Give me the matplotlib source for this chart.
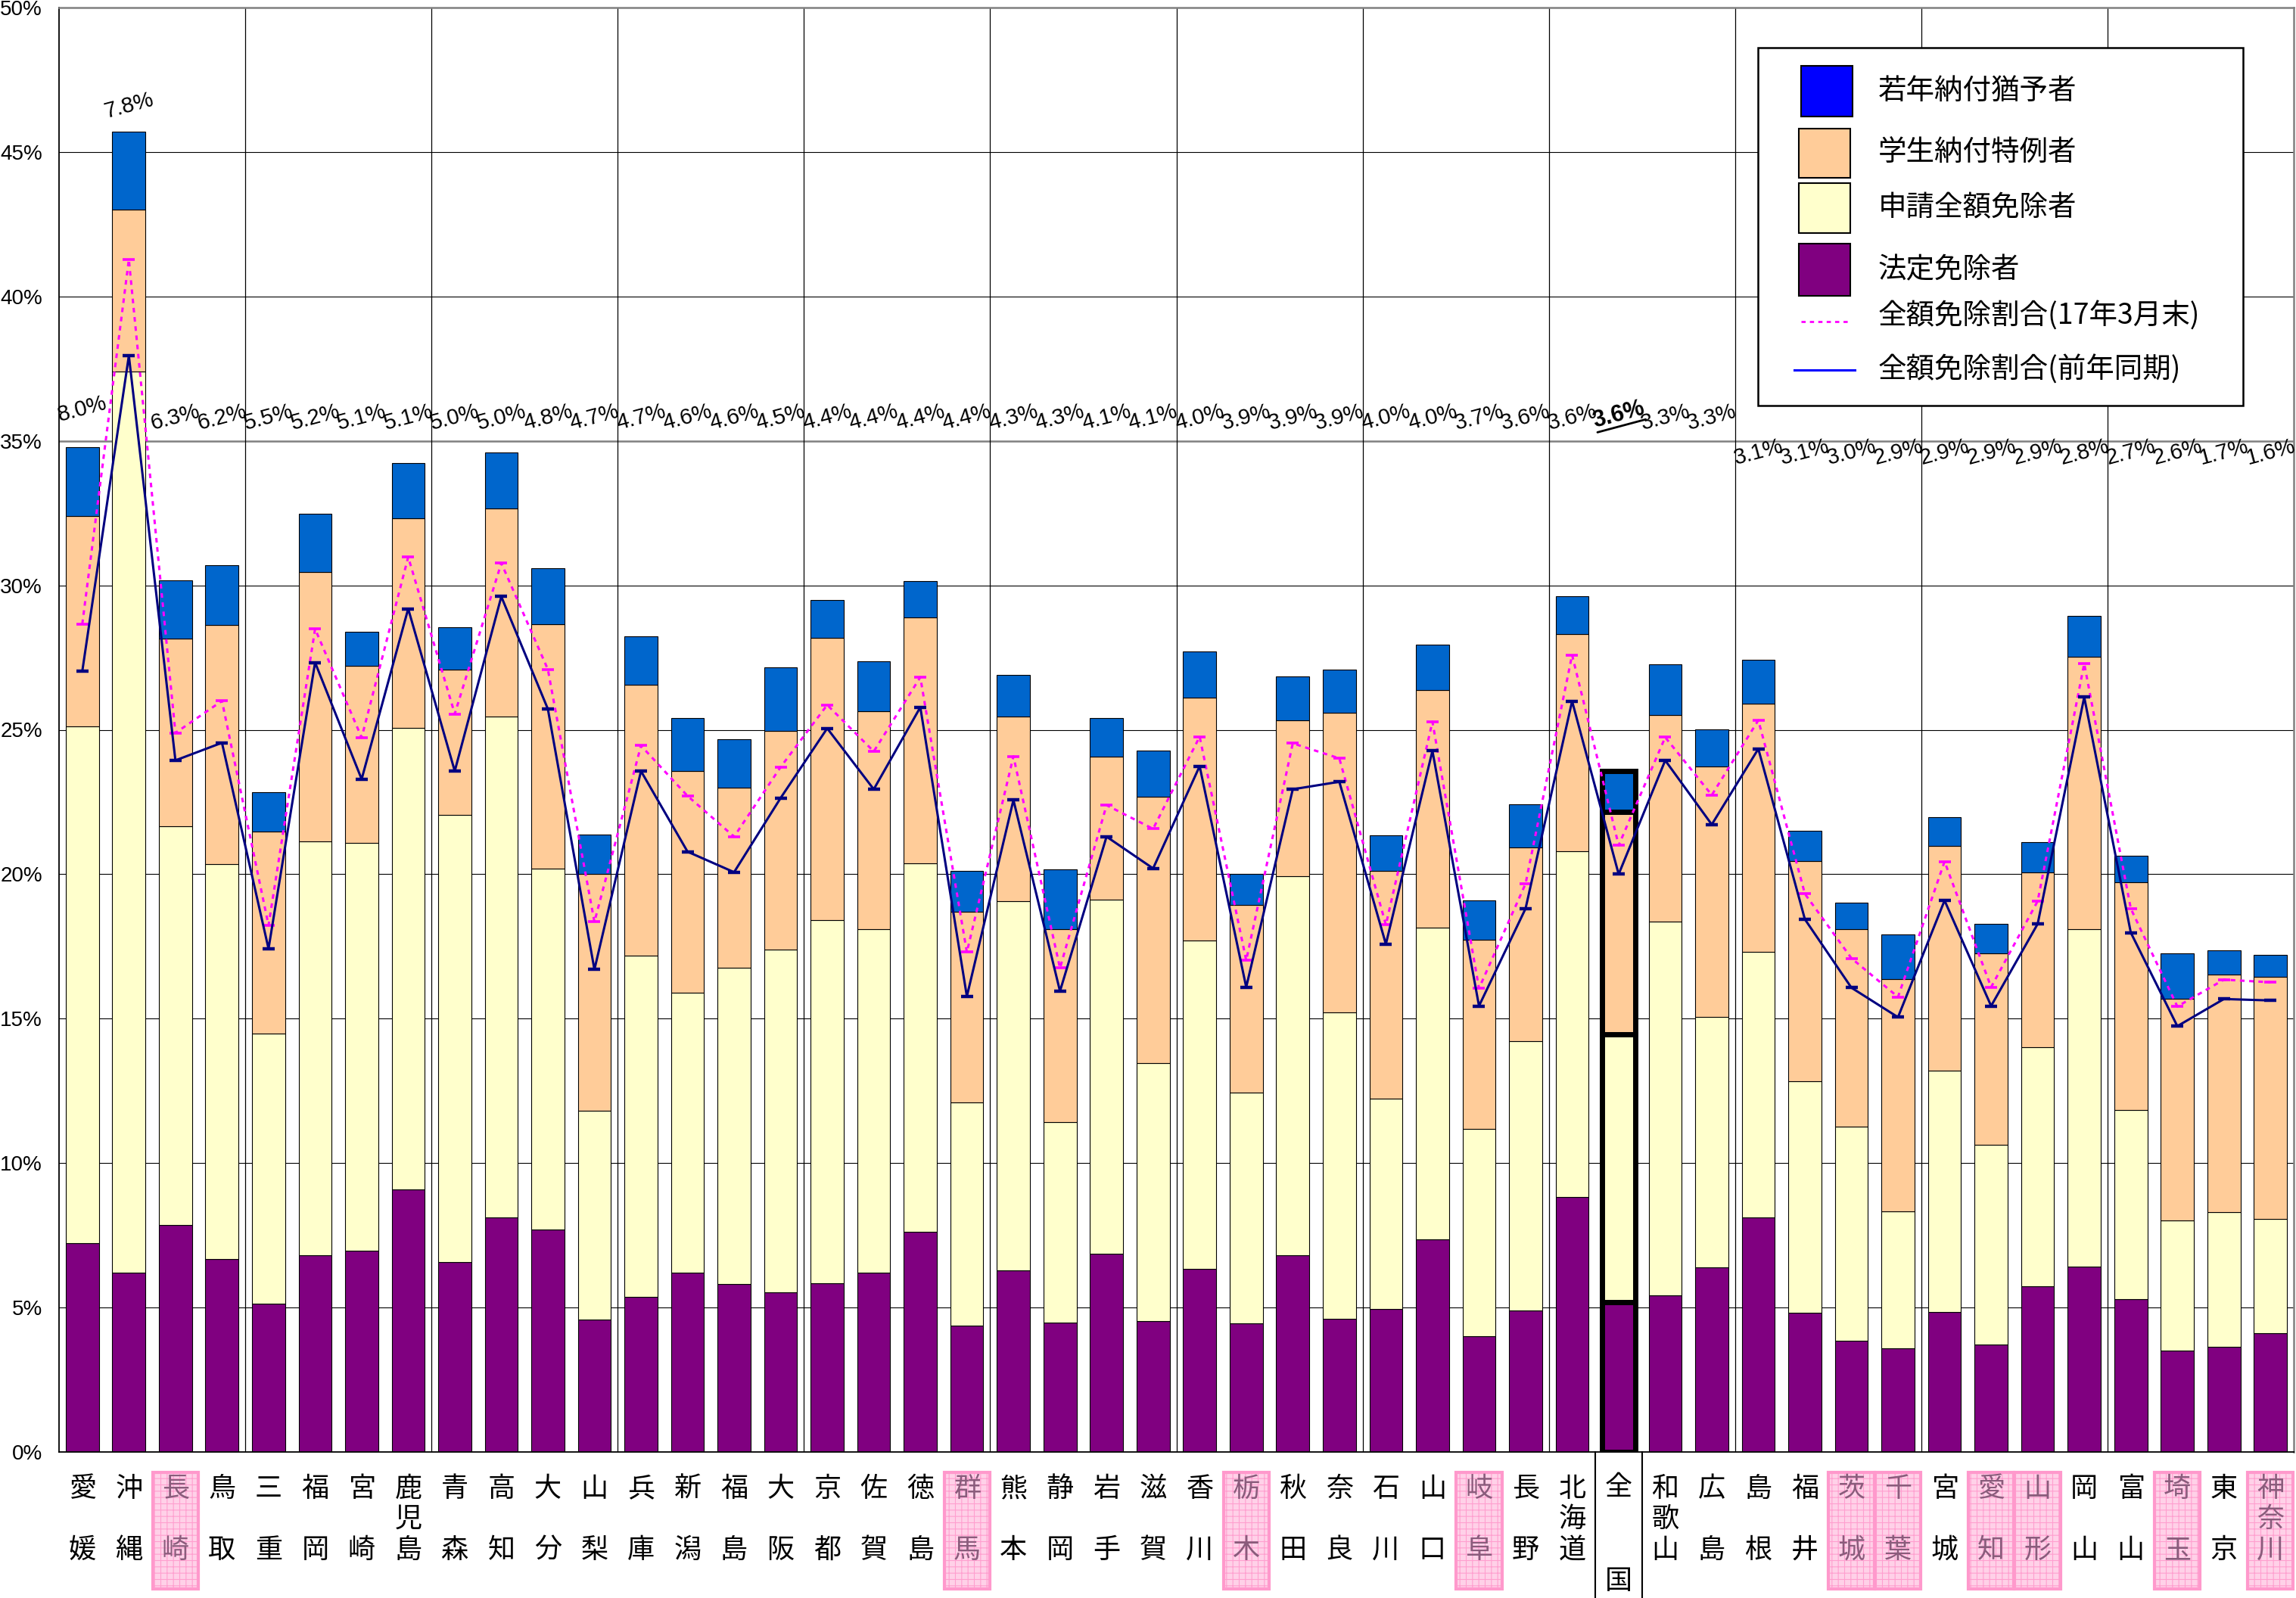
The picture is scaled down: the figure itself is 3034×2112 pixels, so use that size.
import numpy as np
import matplotlib
matplotlib.use("Agg")
import matplotlib.pyplot as plt
from matplotlib.patches import Rectangle
from matplotlib.lines import Line2D
import matplotlib.transforms as mtrans
from matplotlib import font_manager as fm

# ---------------- data ----------------
prefectures = ['愛媛','沖縄','長崎','鳥取','三重','福岡','宮崎','鹿児島','青森','高知','大分','山梨',
               '兵庫','新潟','福島','大阪','京都','佐賀','徳島','群馬','熊本','静岡','岩手','滋賀',
               '香川','栃木','秋田','奈良','石川','山口','岐阜','長野','北海道','全国','和歌山','広島',
               '島根','福井','茨城','千葉','宮城','愛知','山形','岡山','富山','埼玉','東京','神奈川']

legal_exempt = [7.22, 6.22, 7.85, 6.69, 5.13, 6.81, 6.97, 9.08, 6.57, 8.13, 7.69, 4.58,
                5.36, 6.20, 5.81, 5.53, 5.85, 6.22, 7.62, 4.37, 6.29, 4.48, 6.85, 4.53,
                6.34, 4.46, 6.81, 4.62, 4.95, 7.36, 4.02, 4.90, 8.82, 5.18, 5.43, 6.39,
                8.13, 4.81, 3.86, 3.58, 4.85, 3.72, 5.74, 6.43, 5.30, 3.51, 3.65, 4.11]
applied_full = [17.91, 31.18, 13.82, 13.65, 9.36, 14.33, 14.12, 15.98, 15.49, 17.32, 12.51, 7.22,
                11.83, 9.71, 10.94, 11.86, 12.57, 11.87, 12.75, 7.73, 12.78, 6.95, 12.26, 8.94,
                11.36, 7.99, 13.12, 10.61, 7.27, 10.80, 7.17, 9.31, 11.98, 9.29, 12.92, 8.68,
                9.19, 8.03, 7.40, 4.74, 8.34, 6.92, 8.26, 11.66, 6.55, 4.50, 4.66, 3.97]
student_special = [7.27, 5.61, 6.48, 8.30, 6.99, 9.31, 6.13, 7.25, 5.02, 7.20, 8.46, 8.22,
                   9.36, 7.66, 6.24, 7.58, 9.75, 7.55, 8.52, 6.59, 6.38, 6.66, 4.95, 9.22,
                   8.41, 6.48, 5.41, 10.36, 7.89, 8.22, 6.53, 6.71, 7.51, 7.69, 7.17, 8.66,
                   8.59, 7.62, 6.83, 8.05, 7.78, 6.62, 6.06, 9.43, 7.87, 7.67, 8.23, 8.36]
youth_deferral = [2.39, 2.69, 2.02, 2.06, 1.37, 2.02, 1.18, 1.93, 1.48, 1.95, 1.92, 1.35,
                  1.69, 1.84, 1.67, 2.20, 1.32, 1.74, 1.25, 1.42, 1.44, 2.07, 1.35, 1.60,
                  1.60, 1.07, 1.51, 1.49, 1.23, 1.56, 1.37, 1.49, 1.30, 1.41, 1.74, 1.28,
                  1.51, 1.05, 0.93, 1.54, 1.00, 1.02, 1.05, 1.42, 0.92, 1.57, 0.83, 0.77]
rate_h17_march = [28.66, 41.28, 24.89, 26.00, 18.23, 28.49, 24.73, 30.98, 25.55, 30.77, 27.09, 18.35,
                  24.45, 22.71, 21.30, 23.71, 25.86, 24.25, 26.82, 17.30, 24.08, 16.75, 22.39, 21.57,
                  24.76, 17.02, 24.53, 24.01, 18.25, 25.28, 16.05, 19.67, 27.59, 21.00, 24.74, 22.74,
                  25.33, 19.32, 17.09, 15.75, 20.44, 16.09, 19.07, 27.29, 18.81, 15.42, 16.35, 16.26]
rate_prev_year = [27.03, 37.95, 23.94, 24.55, 17.42, 27.33, 23.29, 29.19, 23.57, 29.61, 25.72, 16.70,
                  23.57, 20.78, 20.07, 22.64, 25.05, 22.94, 25.78, 15.77, 22.57, 15.95, 21.30, 20.20,
                  23.74, 16.09, 22.94, 23.20, 17.58, 24.27, 15.44, 18.81, 25.99, 20.00, 23.94, 21.72,
                  24.34, 18.44, 16.07, 15.05, 19.09, 15.44, 18.28, 26.13, 17.98, 14.74, 15.68, 15.63]
top_labels = ['8.0%','7.8%','6.3%','6.2%','5.5%','5.2%','5.1%','5.1%','5.0%','5.0%','4.8%','4.7%',
              '4.7%','4.6%','4.6%','4.5%','4.4%','4.4%','4.4%','4.4%','4.3%','4.3%','4.1%','4.1%',
              '4.0%','3.9%','3.9%','3.9%','4.0%','4.0%','3.7%','3.6%','3.6%','3.6%','3.3%','3.3%',
              '3.1%','3.1%','3.0%','2.9%','2.9%','2.9%','2.9%','2.8%','2.7%','2.6%','1.7%','1.6%']
highlighted = ['長崎','群馬','栃木','岐阜','茨城','千葉','愛知','山形','埼玉','神奈川']
national = '全国'
series_names = ['法定免除者', '申請全額免除者', '学生納付特例者', '若年納付猶予者']
line_names = ['全額免除割合(17年3月末)', '全額免除割合(前年同期)']
y_ticks = list(range(0, 51, 5))

# ---------------- fonts ----------------
plt.rcParams['font.family'] = ['Noto Sans CJK JP', 'DejaVu Sans']
names = {f.name for f in fm.fontManager.ttflist}
if 'Liberation Sans Narrow' in names:
    NUM_FAMILY = ['Liberation Sans Narrow', 'DejaVu Sans']
else:
    NUM_FAMILY = ['Liberation Sans', 'DejaVu Sans']
plt.rcParams['hatch.linewidth'] = 0.8

W, H = 3034, 2112
fig = plt.figure(figsize=(W / 100, H / 100), dpi=100)
fig.patch.set_facecolor('white')

def fx(px):
    return px / W

def fy(py):
    return 1 - py / H

ax = fig.add_axes([fx(78), fy(1919), fx(3031) - fx(78), fy(10) - fy(1919)])
n = len(prefectures)
x = np.arange(n)
ax.set_xlim(-0.5, n - 0.5)
ax.set_ylim(0, 50)

# gridlines
for v in y_ticks[1:-1]:
    if v == 35:
        ax.axhline(v, color='#808080', lw=1.8, zorder=0.5)
    else:
        ax.axhline(v, color='black', lw=0.8, zorder=0.5)
for k in range(4, n, 4):
    ax.axvline(k - 0.5, color='black', lw=0.9, zorder=0.5)

# bars
colors = ['#800080', '#FFFFCC', '#FFCC99', '#0066CC']
segments = [legal_exempt, applied_full, student_special, youth_deferral]
is_nat = np.array([p == national for p in prefectures])
ecs = ['black'] * n
lws = np.where(is_nat, 5.0, 0.8)
bottom = np.zeros(n)
for seg, c in zip(segments, colors):
    seg = np.array(seg)
    ax.bar(x, seg, width=0.71, bottom=bottom, color=c, edgecolor=ecs,
           linewidth=lws, zorder=2)
    bottom = bottom + seg

# lines
ax.plot(x, rate_h17_march, color='#FF00FF', lw=2.2, ls=(0, (2, 2)),
        marker='_', ms=12, mew=2.6, zorder=4)
ax.plot(x, rate_prev_year, color='#000080', lw=2.2, ls='-',
        marker='_', ms=12, mew=3.2, zorder=5)

# labels above bars
ROT = 15
for i, lab in enumerate(top_labels):
    if i == 1:
        ly = 46.6
    elif i == 0:
        ly = 36.1
    elif i >= 36:
        ly = 34.6
    else:
        ly = 35.8
    if prefectures[i] == national:
        ax.text(i, ly + 0.1, lab, rotation=ROT, rotation_mode='anchor', ha='center', va='center',
                fontsize=22, fontweight='bold', family=NUM_FAMILY, zorder=6)
        th = np.deg2rad(ROT)
        pts = []
        for dxp, dyp in [(-33, -15), (33, -15)]:
            rx = dxp * np.cos(th) - dyp * np.sin(th)
            ry = dxp * np.sin(th) + dyp * np.cos(th)
            pts.append(ax.transData + mtrans.ScaledTranslation(rx / 100, ry / 100, fig.dpi_scale_trans))
        ax.annotate('', xy=(i, ly + 0.1), xycoords=pts[1], xytext=(i, ly + 0.1), textcoords=pts[0],
                    arrowprops=dict(arrowstyle='-', lw=2.0, color='black', shrinkA=0, shrinkB=0),
                    zorder=6)
    else:
        ax.text(i, ly, lab, rotation=ROT, rotation_mode='anchor', ha='center', va='center',
                fontsize=21, family=NUM_FAMILY, zorder=6)

# axes styling
ax.set_yticks(y_ticks)
ax.set_yticklabels([f'{v}%' for v in y_ticks], family=NUM_FAMILY, fontsize=20)
ax.tick_params(axis='y', length=0, pad=16)
ax.set_xticks([])
for s in ['left', 'bottom']:
    ax.spines[s].set_color('black')
    ax.spines[s].set_linewidth(1.3)
for s in ['top', 'right']:
    ax.spines[s].set_color('#808080')
    ax.spines[s].set_linewidth(1.8)

# category labels (vertical text)
bt = mtrans.blended_transform_factory(ax.transData, fig.transFigure)
for i, name in enumerate(prefectures):
    hl = name in highlighted
    if hl:
        ax.add_patch(Rectangle((i - 0.49, fy(2100)), 0.98, fy(1946) - fy(2100), transform=bt,
                               facecolor='#FFD1E8', edgecolor='#FF9FCF', hatch='++', lw=0,
                               clip_on=False, zorder=1))
        ax.add_patch(Rectangle((i - 0.49, fy(2100)), 0.98, fy(1946) - fy(2100), transform=bt,
                               fill=False, edgecolor='#FF99CC', lw=3, clip_on=False, zorder=1))
    tc = '#8A5C7C' if hl else 'black'
    if name == national:
        rows = [1966, 2090]
        for xx in (i - 0.5, i + 0.5):
            ax.add_line(Line2D([xx, xx], [fy(1919), fy(2112)], transform=bt, color='black',
                               lw=1.5, clip_on=False))
    elif len(name) == 3:
        rows = [1968, 2008, 2049]
    else:
        rows = [1968, 2049]
    for ch, ry in zip(name, rows):
        ax.text(i, fy(ry), ch, transform=bt, ha='center', va='center', fontsize=26,
                color=tc, clip_on=False, zorder=3)

# legend (manual)
fig.patches.append(Rectangle((fx(2323), fy(536)), fx(2964) - fx(2323), fy(63) - fy(536),
                             transform=fig.transFigure, facecolor='white', edgecolor='black',
                             lw=1.8, zorder=5))
leg_patches = [('#0000FF', 2380, 2448, 87, 154, series_names[3]),
               ('#FFCC99', 2377, 2445, 170, 235, series_names[2]),
               ('#FFFFCC', 2377, 2445, 242, 308, series_names[1]),
               ('#800080', 2377, 2445, 322, 391, series_names[0])]
for c, x0, x1, y0, y1, lab in leg_patches:
    fig.patches.append(Rectangle((fx(x0), fy(y1)), fx(x1) - fx(x0), fy(y0) - fy(y1),
                                 transform=fig.transFigure, facecolor=c, edgecolor='black',
                                 lw=1.5, zorder=6))
    fig.text(fx(2482), fy((y0 + y1) / 2), lab, ha='left', va='center', fontsize=27, zorder=7)
fig.lines.append(Line2D([fx(2380), fx(2445)], [fy(425), fy(425)], transform=fig.transFigure,
                        color='#FF00FF', lw=2.0, ls=(0, (2, 2)), zorder=6))
fig.text(fx(2482), fy(418), line_names[0], ha='left', va='center', fontsize=27, zorder=7)
fig.lines.append(Line2D([fx(2371), fx(2451)], [fy(489), fy(489)], transform=fig.transFigure,
                        color='#0000FF', lw=2.2, zorder=6))
fig.text(fx(2482), fy(489), line_names[1], ha='left', va='center', fontsize=27, zorder=7)

fig.savefig('out.png', dpi=100, facecolor='white')
